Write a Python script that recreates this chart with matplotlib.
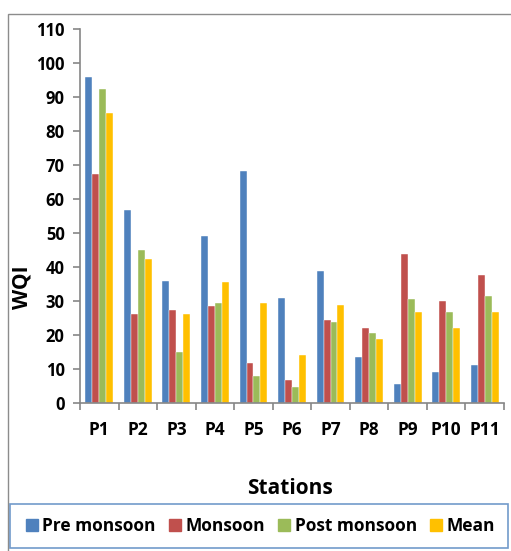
import numpy as np
import matplotlib.pyplot as plt
from matplotlib.patches import Rectangle
from matplotlib.lines import Line2D

stations = ['P1', 'P2', 'P3', 'P4', 'P5', 'P6', 'P7', 'P8', 'P9', 'P10', 'P11']
pre_monsoon = [95.8, 56.7, 35.8, 49.1, 68.1, 30.8, 38.8, 13.6, 5.5, 9.1, 11.1]
monsoon = [67.3, 26.3, 27.3, 28.5, 11.8, 6.7, 24.3, 22.1, 43.7, 29.9, 37.6]
post_monsoon = [92.5, 44.9, 15.0, 29.5, 7.8, 4.7, 23.7, 20.5, 30.7, 26.8, 31.5]
mean = [85.2, 42.5, 26.1, 35.7, 29.3, 14.1, 28.8, 18.7, 26.7, 22.0, 26.8]

series = [('Pre monsoon', pre_monsoon, '#4F81BD'),
          ('Monsoon', monsoon, '#C0504D'),
          ('Post monsoon', post_monsoon, '#9BBB59'),
          ('Mean', mean, '#FFC000')]

plt.rcParams['font.family'] = ['Open Sans', 'DejaVu Sans']
plt.rcParams['font.weight'] = 'bold'

W, H = 511, 551
fig = plt.figure(figsize=(W / 100, H / 100), dpi=100)

# outer chart frame
fig.add_artist(Rectangle((8 / W, -0.05), 1.2, 1 - 14 / H + 0.05, transform=fig.transFigure,
                         fill=False, edgecolor='#8C8C8C', linewidth=1))

ax = fig.add_axes([80 / W, (H - 403) / H, (504 - 80) / W, (403 - 29) / H])

x = np.arange(len(stations))
bw = 0.18
for i, (name, vals, col) in enumerate(series):
    ax.bar(x + (i - 1.5) * bw, vals, bw, color=col, edgecolor='white', linewidth=0.3, label=name)

ax.set_xlim(-0.5, len(stations) - 0.5)
ax.set_ylim(0, 110)
ax.set_yticks(range(0, 111, 10))
for lab in ax.get_yticklabels():
    lab.set_fontweight('bold')

for s in ['top', 'right']:
    ax.spines[s].set_visible(False)
for s in ['left', 'bottom']:
    ax.spines[s].set_color('#868686')
    ax.spines[s].set_linewidth(1.2)

ax.set_xticks(np.arange(-0.5, len(stations), 1))
ax.set_xticklabels([])
ax.set_xticks(x, minor=True)
ax.set_xticklabels(stations, minor=True, fontsize=12.5, fontweight='bold')
ax.tick_params(axis='x', which='major', length=5, color='#868686', width=1.2)
ax.tick_params(axis='x', which='minor', length=0, pad=13)
ax.tick_params(axis='y', length=5, color='#868686', width=1.2, labelsize=12, pad=6)

fig.text(290 / W, 1 - 488 / H, 'Stations', fontsize=15, fontweight='bold',
         ha='center', va='center')
fig.text(22 / W, 1 - 287 / H, 'WQI', fontsize=15, fontweight='bold',
         ha='center', va='center', rotation=90)

handles = [Line2D([], [], marker='s', linestyle='none', markersize=8,
                  markerfacecolor=c, markeredgecolor=c) for _, _, c in series]
leg = fig.legend(handles, [n for n, _, _ in series], loc='lower left',
                 bbox_to_anchor=(10 / W, 1 - 548 / H, 498 / W, 50 / H), mode='expand',
                 ncol=4, frameon=True, fancybox=False, handletextpad=0.1,
                 columnspacing=0.5, borderpad=0.75, borderaxespad=0, handlelength=1.0,
                 prop={'weight': 'bold', 'size': 12.5})
leg.get_frame().set_edgecolor('#4F81BD')
leg.get_frame().set_linewidth(1.2)

fig.savefig('out.png', dpi=100)
